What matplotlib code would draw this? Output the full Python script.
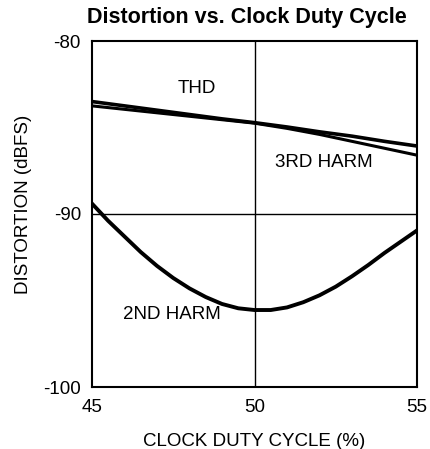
import numpy as np
import matplotlib.pyplot as plt

plt.rcParams['font.family'] = ['Liberation Sans', 'DejaVu Sans']
plt.rcParams['axes.unicode_minus'] = False

# DATOS
duty = [45, 46, 47, 48, 49, 50, 51, 52, 53, 54, 55]
thd = [-83.5, -83.75, -84.0, -84.25, -84.5, -84.72, -84.97, -85.25, -85.5, -85.8, -86.07]
harm3 = [-83.75, -83.95, -84.15, -84.35, -84.55, -84.75, -85.05, -85.4, -85.8, -86.2, -86.6]
duty2 = [45, 45.5, 46, 46.5, 47, 47.5, 48, 48.5, 49, 49.5, 50, 50.5, 51, 51.5, 52, 52.5, 53, 53.5, 54, 54.5, 55]
harm2 = [-89.4, -90.4, -91.3, -92.2, -93.0, -93.7, -94.3, -94.8, -95.2, -95.45, -95.55, -95.55, -95.4, -95.1, -94.7, -94.2, -93.6, -92.95, -92.25, -91.6, -90.95]

labels = ["THD", "3RD HARM", "2ND HARM"]
label_pos = [(48.22, -82.72), (52.12, -87.03), (47.45, -95.8)]

# GRÁFICO
fig = plt.figure(figsize=(4.30, 4.49), dpi=100)
ax = fig.add_axes([92/430, 1 - 387/449, 325/430, 346/449])

ax.plot(duty, thd, color="black", lw=2.6)
ax.plot(duty, harm3, color="black", lw=2.2)
ax.plot(duty2, harm2, color="black", lw=2.8)

for lab, (x, y) in zip(labels, label_pos):
    ax.text(x, y, lab, ha="center", va="center", fontsize=13.5)

ax.axvline(50, color="black", lw=1)
ax.axhline(-90, color="black", lw=1)

ax.set_xlim(45, 55)
ax.set_ylim(-100, -80)
ax.set_xticks([45, 50, 55])
ax.set_yticks([-100, -90, -80])
ax.tick_params(length=0, labelsize=13.5)
ax.tick_params(axis="x", pad=9)
ax.tick_params(axis="y", pad=8)
for s in ax.spines.values():
    s.set_linewidth(1.5)

fig.text(247/430, 1 - 18/449, "Distortion vs. Clock Duty Cycle", fontsize=15.5,
         fontweight="bold", ha="center", va="center")
ax.set_xlabel("CLOCK DUTY CYCLE (%)", fontsize=13.5, labelpad=12)
ax.set_ylabel("DISTORTION (dBFS)", fontsize=13.5)
ax.yaxis.set_label_coords(-0.184, 0.527)

plt.savefig("out.png", dpi=100)
